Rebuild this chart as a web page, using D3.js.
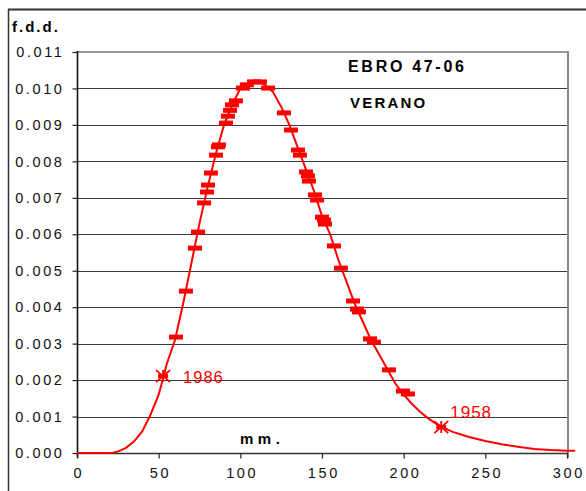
<!DOCTYPE html>
<html>
<head>
<meta charset="utf-8">
<script src="https://cdn.jsdelivr.net/npm/d3@7/dist/d3.min.js"></script>
<style>
  html, body { margin: 0; padding: 0; background: #fff; }
  svg { display: block; }
  text { font-family: "Liberation Sans", Arial, sans-serif; }
</style>
</head>
<body>
<svg id="chart" width="586" height="491"></svg>
<script>
// ---- data ----
const curveX = [0, 20, 22, 25, 30, 35, 40, 45, 50, 53, 55, 60, 65, 70, 75, 80, 85, 90, 95, 100, 105, 110, 115, 120, 125, 130, 135, 140, 145, 150, 155, 160, 165, 170, 175, 180, 185, 190, 195, 200, 205, 210, 215, 220, 225, 230, 240, 250, 260, 270, 280, 290, 300, 305];
const curveF = [0, 0, 0.00001, 0.00004, 0.00014, 0.00032, 0.0006, 0.00105, 0.0016, 0.0021, 0.00245, 0.0031, 0.0041, 0.0052, 0.0063, 0.0073, 0.0082, 0.0090, 0.00955, 0.0100, 0.01015, 0.0102, 0.0101, 0.0099, 0.0095, 0.0090, 0.0084, 0.0078, 0.0072, 0.0065, 0.0060, 0.0053, 0.0047, 0.0041, 0.0036, 0.0031, 0.0027, 0.0023, 0.0019, 0.0016, 0.00135, 0.00113, 0.00095, 0.0008, 0.00068, 0.00058, 0.00044, 0.00033, 0.00024, 0.00017, 0.00011, 0.00008, 0.00006, 0.00006];

const obsX = [60.6, 66.7, 72.2, 74.1, 77.8, 79.6, 80.2, 82.0, 85.1, 86.3, 86.9, 91.2, 92.4, 93.7, 94.9, 97.3, 101.6, 104.0, 108.4, 112.0, 117.0, 126.7, 131.0, 135.3, 136.5, 140.2, 141.4, 142.0, 145.7, 147.0, 150.0, 151.2, 151.8, 157.3, 161.6, 169.0, 171.4, 172.6, 179.4, 181.8, 191.0, 199.6, 202.6];
const obsF = [0.00318, 0.00444, 0.00562, 0.00606, 0.00686, 0.00716, 0.00735, 0.00768, 0.00817, 0.0084, 0.00845, 0.00905, 0.00924, 0.0094, 0.00955, 0.00966, 0.01001, 0.0101, 0.01018, 0.01018, 0.01001, 0.00933, 0.00886, 0.00831, 0.00817, 0.00771, 0.0076, 0.00746, 0.00708, 0.00694, 0.00647, 0.00639, 0.00628, 0.00568, 0.00507, 0.00417, 0.00395, 0.00387, 0.00313, 0.00304, 0.00228, 0.0017, 0.00162];

const starYears = ["1986", "1958"];
const starX = [52.7, 223];
const starF = [0.00211, 0.00071];

const xTicks = [0, 50, 100, 150, 200, 250, 300];
const yTicks = [0, 0.001, 0.002, 0.003, 0.004, 0.005, 0.006, 0.007, 0.008, 0.009, 0.010, 0.011];

const titleText = "EBRO 47-06";
const subtitleText = "VERANO";
const yTitle = "f.d.d.";
const xTitle = "mm.";

// ---- drawing ----
const svg = d3.select("#chart");
const x = d3.scaleLinear().domain([0, 300]).range([77, 567]);
const y = d3.scaleLinear().domain([0, 0.011]).range([453, 52]);
const RED = "#ff0000";

// outer chart frame (partially visible)
svg.append("line").attr("x1", 8).attr("x2", 586).attr("y1", 9.5).attr("y2", 9.5)
  .attr("stroke", "#333").attr("stroke-width", 2);
svg.append("line").attr("x1", 8.5).attr("x2", 8.5).attr("y1", 9).attr("y2", 491)
  .attr("stroke", "#333").attr("stroke-width", 1.5);

// gridlines
svg.append("g").selectAll("line").data(yTicks.filter(d => d > 0 && d < 0.011)).join("line")
  .attr("x1", 77).attr("x2", 567)
  .attr("y1", d => Math.round(y(d)) + 0.5).attr("y2", d => Math.round(y(d)) + 0.5)
  .attr("stroke", "#3a3a3a").attr("stroke-width", 1.2);

// plot area top and right border
svg.append("line").attr("x1", 77).attr("x2", 568).attr("y1", y(0.011)).attr("y2", y(0.011))
  .attr("stroke", "#9a9a9a").attr("stroke-width", 2);
svg.append("line").attr("x1", 568).attr("x2", 568).attr("y1", y(0.011) - 1).attr("y2", 458)
  .attr("stroke", "#8a8a8a").attr("stroke-width", 2);

// y axis
const yAxis = d3.axisLeft(y).tickValues(yTicks).tickSize(5).tickPadding(8)
  .tickFormat(d3.format(".3f"));
const gy = svg.append("g").attr("transform", "translate(77.5,0)").call(yAxis);
gy.select(".domain").remove();
gy.selectAll(".tick line").attr("stroke", "#222").attr("stroke-width", 1.2);
gy.selectAll(".tick text").attr("font-size", 14.5).attr("fill", "#111")
  .attr("letter-spacing", "2.6px").attr("font-family", "Liberation Sans, Arial, sans-serif");
svg.append("line").attr("x1", 77.5).attr("x2", 77.5).attr("y1", 51).attr("y2", 458)
  .attr("stroke", "#111").attr("stroke-width", 1.6);

// x axis
const xAxis = d3.axisBottom(x).tickValues(xTicks).tickSize(5).tickPadding(9)
  .tickFormat(d3.format("d"));
const gx = svg.append("g").attr("transform", "translate(0,453.5)").call(xAxis);
gx.select(".domain").remove();
gx.selectAll(".tick line").attr("stroke", "#222").attr("stroke-width", 1.2);
gx.selectAll(".tick text").attr("font-size", 14.5).attr("fill", "#111")
  .attr("letter-spacing", "2.6px").attr("dx", "1.3px")
  .attr("font-family", "Liberation Sans, Arial, sans-serif");
svg.append("line").attr("x1", 77).attr("x2", 568).attr("y1", 453.5).attr("y2", 453.5)
  .attr("stroke", "#333").attr("stroke-width", 1.6);

// fitted curve
const line = d3.line().x(d => x(d[0])).y(d => y(d[1])).curve(d3.curveLinear);
svg.append("path").datum(curveX.map((v, i) => [v, curveF[i]]))
  .attr("d", line).attr("fill", "none").attr("stroke", RED).attr("stroke-width", 2);

// observed dash markers
svg.append("g").selectAll("rect").data(obsX.map((v, i) => [v, obsF[i]])).join("rect")
  .attr("x", d => x(d[0]) - 7).attr("y", d => y(d[1]) - 2.5)
  .attr("width", 14).attr("height", 5).attr("fill", RED);

// star markers with labels
const stars = starX.map((v, i) => ({ x: v, f: starF[i], year: starYears[i] }));
const sg = svg.append("g").selectAll("g").data(stars).join("g")
  .attr("transform", d => `translate(${x(d.x)},${y(d.f)})`);
sg.append("path").attr("d", "M-7,-6L7,6M-7,6L7,-6M0,-6L0,6")
  .attr("stroke", RED).attr("stroke-width", 1.8).attr("fill", "none");
sg.append("rect").attr("x", -5).attr("y", -2).attr("width", 10).attr("height", 4).attr("fill", RED);
sg.append("text").text(d => d.year)
  .attr("x", (d, i) => i === 0 ? 20 : 9)
  .attr("y", (d, i) => i === 0 ? 7 : -9)
  .attr("font-size", (d, i) => i === 0 ? 16.5 : 17)
  .attr("letter-spacing", "1px")
  .attr("fill", RED);

// texts
svg.append("text").text(yTitle).attr("x", 12).attr("y", 32)
  .attr("font-size", 15).attr("font-weight", "bold").attr("letter-spacing", "2px").attr("fill", "#000");
svg.append("text").text(titleText).attr("x", 348).attr("y", 72)
  .attr("font-size", 16).attr("font-weight", "bold").attr("letter-spacing", "2.7px").attr("fill", "#000");
svg.append("text").text(subtitleText).attr("x", 350).attr("y", 108)
  .attr("font-size", 15).attr("font-weight", "bold").attr("letter-spacing", "2.2px").attr("fill", "#000");
svg.append("text").text(xTitle).attr("x", 240).attr("y", 444)
  .attr("font-size", 15).attr("font-weight", "bold").attr("letter-spacing", "4.5px").attr("fill", "#000");
</script>
</body>
</html>
